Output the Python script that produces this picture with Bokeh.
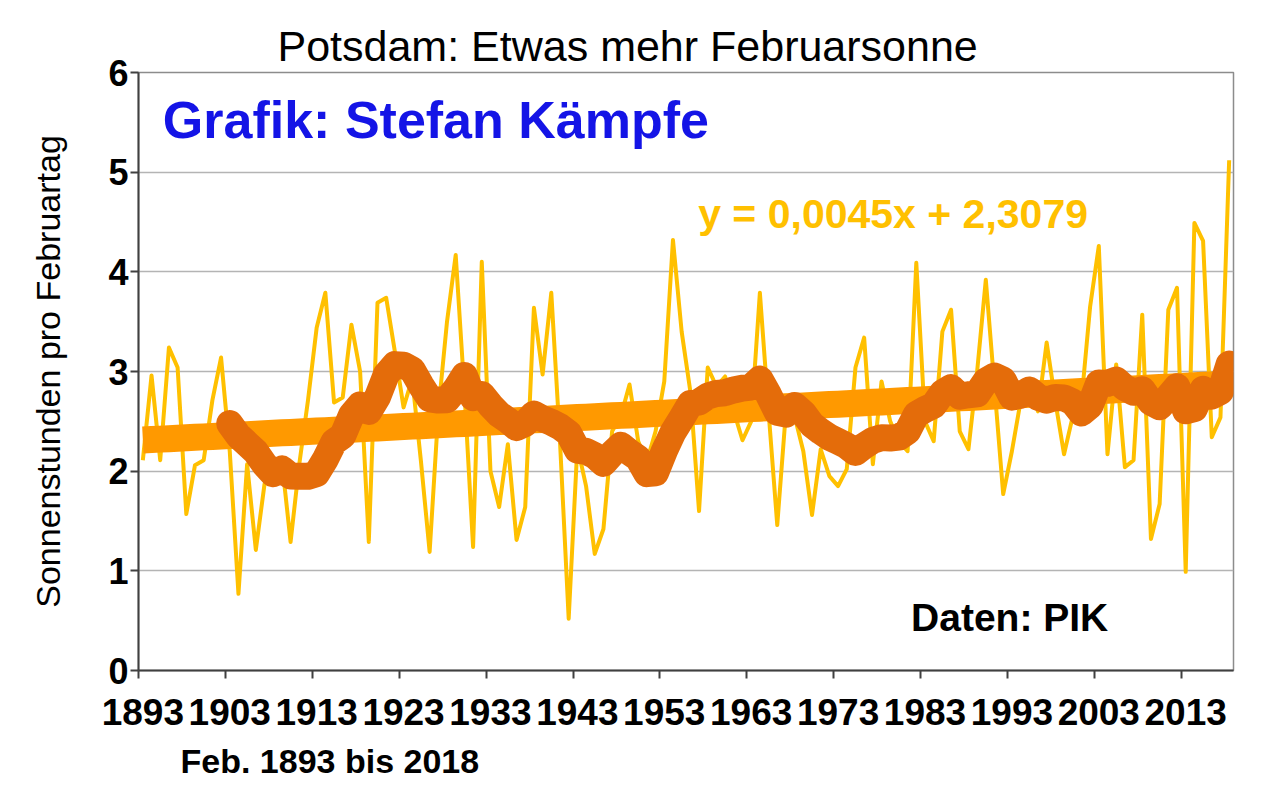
import numpy as np
import pandas as pd
from bokeh.plotting import figure
from bokeh.models import Label, FixedTicker, Title
from bokeh.embed import file_html
from bokeh.resources import INLINE

# ---------------- data ----------------
years = list(range(1893, 2019))
sun_hours = [
    2.11, 2.96, 2.11, 3.24, 3.04, 1.57, 2.06, 2.11, 2.71, 3.14,
    2.20, 0.77, 2.07, 1.21, 1.87, 2.00, 2.10, 1.29, 2.07, 2.71,
    3.44, 3.79, 2.69, 2.74, 3.47, 3.00, 1.29, 3.69, 3.74, 3.20,
    2.64, 2.93, 2.10, 1.19, 2.60, 3.50, 4.17, 2.80, 1.24, 4.10,
    2.00, 1.64, 2.27, 1.31, 1.64, 3.64, 2.97, 3.79, 2.30, 0.52,
    2.25, 1.85, 1.17, 1.42, 2.40, 2.55, 2.87, 2.30, 2.10, 2.40,
    2.90, 4.32, 3.40, 2.80, 1.60, 3.04, 2.85, 2.95, 2.60, 2.31,
    2.50, 3.79, 2.60, 1.46, 2.60, 2.55, 2.20, 1.56, 2.22, 1.95,
    1.85, 2.02, 3.04, 3.34, 2.07, 2.90, 2.50, 2.30, 2.20, 4.09,
    2.50, 2.30, 3.40, 3.62, 2.40, 2.22, 3.00, 3.92, 2.84, 1.77,
    2.20, 2.70, 2.90, 2.60, 3.29, 2.70, 2.17, 2.55, 2.70, 3.65,
    4.26, 2.17, 3.07, 2.04, 2.11, 3.57, 1.32, 1.67, 3.62, 3.84,
    0.99, 4.49, 4.31, 2.34, 2.54, 5.12,
]
tick_years = list(range(1893, 2019, 10))
tick_labels = [str(y) for y in tick_years]
y_ticks = [0, 1, 2, 3, 4, 5, 6]
trend_slope = 0.0045
trend_intercept = 2.3079
ma_window = 11

title_text = "Potsdam: Etwas mehr Februarsonne"
author_text = "Grafik: Stefan Kämpfe"
equation_text = "y = 0,0045x + 2,3079"
source_text = "Daten: PIK"
period_text = "Feb. 1893 bis 2018"
ylabel_text = "Sonnenstunden pro Februartag"

# ---------------- derived series ----------------
df = pd.DataFrame({"year": years, "sun": sun_hours})
df["ma"] = df["sun"].rolling(ma_window).mean()
ma_df = df.dropna()
idx = np.arange(1, len(years) + 1)
trend = trend_slope * idx + trend_intercept

FONT = "Liberation Sans"

p = figure(width=1277, height=792, x_range=(1892.5, 2018.5), y_range=(0, 6),
           output_backend="svg", toolbar_location=None,
           min_border_left=138, min_border_right=44,
           min_border_top=72, min_border_bottom=122)
p.background_fill_color = "white"
p.border_fill_color = "white"
p.outline_line_color = "#8c8c8c"
p.outline_line_width = 1.5

# series
p.line(years, sun_hours, line_color="#FFC000", line_width=4, line_join="round")
p.line(years, list(trend), line_color="#FF9900", line_width=27)
p.line(ma_df["year"].tolist(), ma_df["ma"].tolist(), line_color="#E46C0A",
       line_width=27, line_cap="round", line_join="round")

# axes
p.xgrid.grid_line_color = None
p.ygrid.grid_line_color = "#b4b4b4"
p.ygrid.grid_line_width = 1.5
p.ygrid.ticker = FixedTicker(ticks=y_ticks)

p.xaxis.ticker = FixedTicker(ticks=tick_years,
                             minor_ticks=[y - 0.5 for y in tick_years])
p.xaxis.major_label_overrides = dict(zip(tick_years, tick_labels))
p.xaxis.major_tick_out = 0
p.xaxis.major_tick_in = 0
p.xaxis.minor_tick_out = 8
p.xaxis.minor_tick_in = 0
p.xaxis.minor_tick_line_color = "#404040"
p.xaxis.minor_tick_line_width = 2
p.xaxis.major_label_standoff = 20

p.yaxis.ticker = FixedTicker(ticks=y_ticks)
p.yaxis.major_tick_out = 8
p.yaxis.major_tick_in = 0
p.yaxis.minor_tick_out = 0
p.yaxis.minor_tick_in = 0
p.yaxis.major_label_standoff = 2
p.yaxis.axis_label = ylabel_text
p.yaxis.axis_label_text_font = FONT
p.yaxis.axis_label_text_font_size = "34px"
p.yaxis.axis_label_text_font_style = "normal"
p.yaxis.axis_label_text_color = "black"
p.yaxis.axis_label_standoff = 38

for ax in (p.xaxis, p.yaxis):
    ax.axis_line_color = "#404040"
    ax.axis_line_width = 2
    ax.major_tick_line_color = "#404040"
    ax.major_tick_line_width = 2
    ax.major_label_text_font = FONT
    ax.major_label_text_font_style = "bold"
    ax.major_label_text_color = "black"
p.xaxis.major_label_text_font_size = "37px"
p.yaxis.major_label_text_font_size = "36px"

# titles outside the frame
p.add_layout(Title(text=title_text, align="left", offset=139, standoff=5,
                   text_font=FONT, text_font_size="43px",
                   text_font_style="normal", text_color="black"), "above")
p.add_layout(Title(text=period_text, align="left", offset=42, standoff=24,
                   text_font=FONT, text_font_size="34px",
                   text_font_style="bold", text_color="black"), "below")

# texts inside the frame
p.add_layout(Label(x=1895.3, y=5.52, text=author_text, text_align="left",
                   text_baseline="middle", text_font=FONT, text_font_size="52px",
                   text_font_style="bold", text_color="#1414E6"))
p.add_layout(Label(x=1956.9, y=4.585, text=equation_text, text_align="left",
                   text_baseline="middle", text_font=FONT, text_font_size="41px",
                   text_font_style="bold", text_color="#FFC000"))
p.add_layout(Label(x=1981.4, y=0.53, text=source_text, text_align="left",
                   text_baseline="middle", text_font=FONT, text_font_size="39px",
                   text_font_style="bold", text_color="black"))

open("out.html", "w").write(file_html(p, INLINE))
